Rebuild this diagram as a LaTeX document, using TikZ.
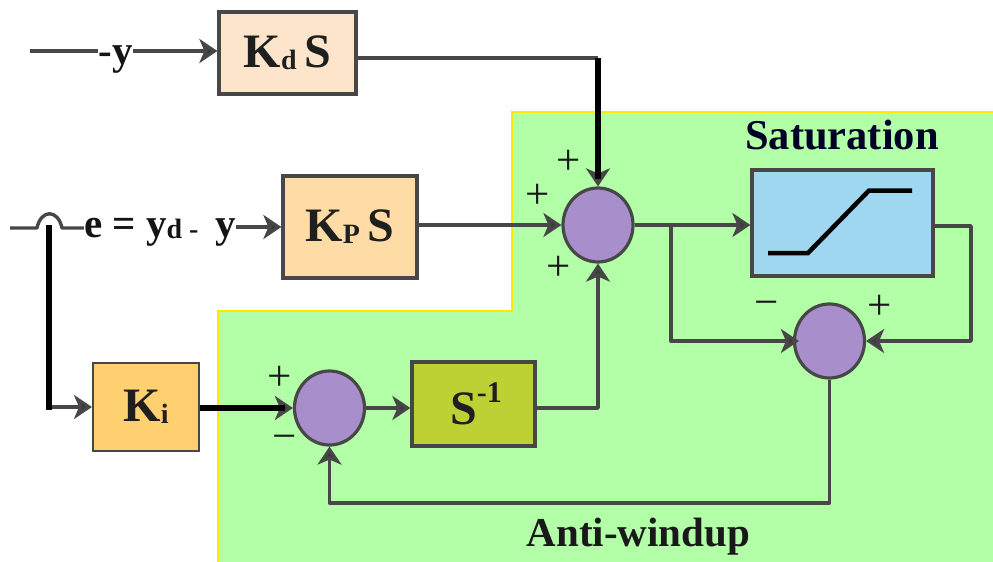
\documentclass[tikz,border=0pt]{standalone}
\usepackage{fontspec}
\setmainfont{Liberation Serif}
\usetikzlibrary{arrows.meta,calc,shapes.geometric}
\definecolor{wire}{HTML}{474747}
\definecolor{zone}{HTML}{B3FFA8}
\definecolor{edgey}{HTML}{FFE800}
\definecolor{sumc}{HTML}{A88FCC}
\definecolor{satc}{HTML}{A0D7F0}
\definecolor{kdc}{HTML}{FDE5CC}
\definecolor{kpc}{HTML}{FFDBA6}
\definecolor{kic}{HTML}{FFD070}
\definecolor{intc}{HTML}{BDD135}
\newcommand{\subsc}[1]{\raisebox{-0.04em}{\fontsize{28}{28}\selectfont\bfseries #1}}
\tikzset{
  blockbox/.style={draw=wire,line width=3.2pt,rectangle,inner sep=0pt,text=black!88},
  sumnode/.style={draw=wire,line width=3.2pt,ellipse,fill=sumc,inner sep=0pt,minimum width=70pt,minimum height=74pt},
  wireline/.style={draw=wire,line width=3.4pt,line join=round},
  blackline/.style={draw=black,line width=5.5pt},
  tip/.style={-{Stealth[length=18pt,width=24pt,inset=5pt,fill=wire!80!black]}},
  sign/.style={inner sep=0pt,text=black!90,font={\fontsize{43}{43}\selectfont}},
  lab/.style={inner sep=0pt,text=black!92,font={\fontsize{41}{41}\selectfont\bfseries}}
}
\begin{document}
\begin{tikzpicture}[x=1pt,y=-1pt]
\useasboundingbox (0,0) rectangle (993,562);
% green zone
\fill[zone] (512,112) -- (993,112) -- (993,562) -- (218,562) -- (218,311) -- (512,311) -- cycle;
\draw[edgey,line width=2.5pt] (993,112) -- (512,112) -- (512,311) -- (218,311) -- (218,562);
% blocks
\node[blockbox,fill=kdc,minimum width=137pt,minimum height=82pt] (kd) at (287.5,53) {\fontsize{48}{48}\selectfont\bfseries K\subsc{d}\,S};
\node[blockbox,fill=kpc,minimum width=134pt,minimum height=102pt] (kp) at (350,227) {\raisebox{-1pt}{\fontsize{48}{48}\selectfont\bfseries K\subsc{P}\,S}};
\node[blockbox,fill=kic,line width=2pt,minimum width=106pt,minimum height=88pt] (ki) at (146,407) {\raisebox{-2pt}{\fontsize{48}{48}\selectfont\bfseries K\subsc{i}}};
\node[blockbox,fill=intc,minimum width=123pt,minimum height=84pt] (integ) at (473.5,404) {\hspace{5pt}\raisebox{-1pt}{\fontsize{48}{48}\selectfont\bfseries S\raisebox{0.45em}{\fontsize{30}{30}\selectfont\bfseries -1}}};
\node[blockbox,fill=satc,minimum width=181pt,minimum height=106pt] (sat) at (842.5,223) {};
\node[sumnode] (s1) at (598,225) {};
\node[sumnode] (s2) at (829.5,341) {};
\node[sumnode] (s3) at (329.5,408) {};
% text labels
\node[lab] (ylab) at (115.5,60) {-y};
\node[lab] (elab) at (160,232) {e = y\subsc{d}\,\subsc{-}\, y};
\node[inner sep=0pt,text=black!85!blue,font={\fontsize{42.5}{42.5}\selectfont\bfseries}] (satlab) at (842,135) {Saturation};
\node[inner sep=0pt,text=black!90,font={\fontsize{41}{41}\selectfont\bfseries}] (awlab) at (638.5,537) {Anti-windup};
% signs
\node[sign] (p1) at (569,162) {+};
\node[sign] (p2) at (538,196) {+};
\node[sign] (p3) at (559,268) {+};
\node[sign] (m4) at (767,309) {−};
\node[sign] (p5) at (880,307) {+};
\node[sign] (p6) at (280,378) {+};
\node[sign] (m7) at (285,443) {−};
% free ends
\coordinate (yin) at (30,51);
\coordinate (ein) at (10,228);
\coordinate (hopa) at (37,228);
\coordinate (hopb) at (62,228);
\coordinate (jct) at (49,225);
\coordinate (kdout) at ($(kd.east)+(0,5)$);
\coordinate (kdturn) at (kdout -| s1.north);
\coordinate (branch) at (671,225);
\coordinate (satout) at ($(sat.east)+(0,3)$);
\coordinate (rgt) at (971,0);
\coordinate (fb) at (0,503);
\coordinate (integout) at (integ.east |- s3.east);
% wires
\draw[wireline] (yin) -- (ylab.west |- yin);
\draw[wireline,tip] (ylab.east |- yin) -- (kd.west |- yin);
\draw[wireline] (ein) -- (hopa) .. controls (41,209) and (58,209) .. (hopb) -- (elab.west |- hopb);
\draw[wireline,tip] (elab.east |- kp.west) -- (kp.west);
\draw[wireline] (kdout) -- (kdturn);
\draw[wireline,tip] (kdturn) -- (s1.north);
\draw[blackline] (kdturn) -- ([yshift=7pt]s1.north);
\draw[wireline,tip] (kp.east |- s1.west) -- (s1.west);
\draw[wireline,tip] (s1.east) -- (sat.west |- s1.east);
\draw[wireline,tip,shorten >=-6pt] (branch) |- (s2.west);
\draw[wireline,tip] (satout) -| (rgt |- s2.east) -- (s2.east);
\draw[wireline,tip] (jct |- ki.west) -- (ki.west);
\draw[blackline] (jct) -- ($(jct |- ki.west)+(0,2.75)$);
\draw[wireline,tip] (ki.east |- s3.west) -- (s3.west);
\draw[blackline] (ki.east |- s3.west) -- ([xshift=-8pt]s3.west);
\draw[wireline,tip] (s3.east) -- (integ.west |- s3.east);
\draw[wireline,tip] (integout) -| (s1.south);
\draw[wireline,tip] (s2.south) |- (fb -| s3.south) -- (s3.south);
% saturation curve
\draw[black,line width=4.5pt,line join=miter] (768,253) -- (808,253) -- (869,190.5) -- (912,190.5);
\end{tikzpicture}
\end{document}
